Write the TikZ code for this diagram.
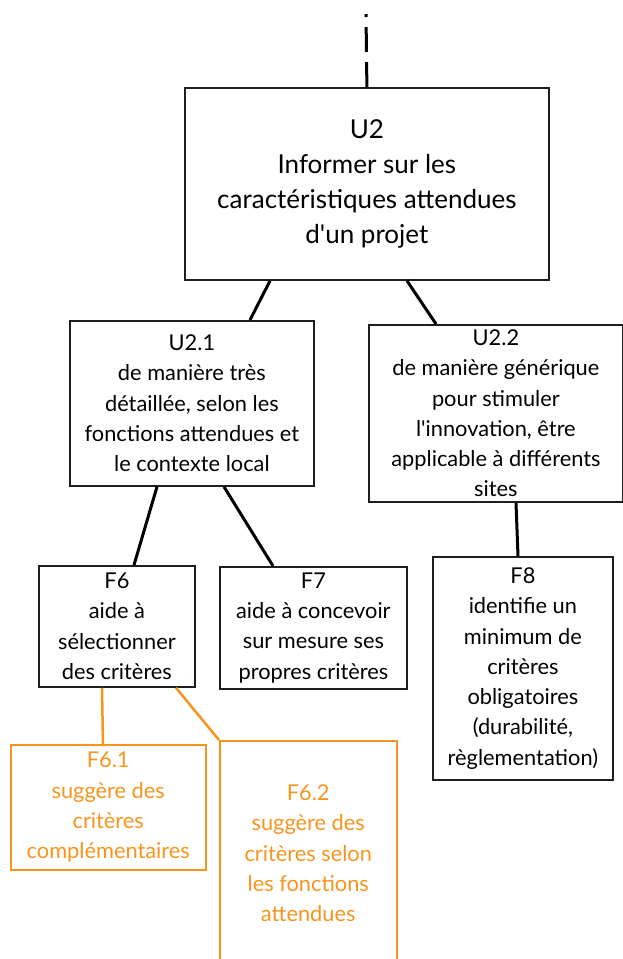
\documentclass[tikz,border=0pt]{standalone}
\usepackage{fontspec}
\setmainfont{Lato}
\usetikzlibrary{calc}
\definecolor{org}{RGB}{247,148,30}
\definecolor{ink}{RGB}{30,30,30}
\tikzset{
  box/.style={draw=ink, line width=1.8pt, anchor=north west, inner sep=0pt,
    align=center, text=black, font=\fontsize{21.8}{30.3}\selectfont},
  bigbox/.style={box, font=\fontsize{26}{35}\selectfont},
  obox/.style={box, draw=org, text=org, line width=1.5pt},
  link/.style={line width=3pt, black},
  olink/.style={line width=2.5pt, org},
}
\begin{document}
\begin{tikzpicture}[x=1pt,y=-1pt]
\useasboundingbox (0,0) rectangle (623,959);
\node[bigbox, minimum width=364pt, minimum height=192pt] (u2) at (184,87)
  {U2\\Informer sur les\\caractéristiques attendues\\d\textquotesingle un projet};
\node[box, minimum width=244pt, minimum height=165pt] (u21) at (69,320)
  {U2.1\\de manière très\\détaillée, selon les\\fonctions attendues et\\le contexte local};
\node[box, minimum width=254pt, minimum height=177pt] (u22) at (368,324)
  {U2.2\\de manière générique\\pour stimuler\\l\textquotesingle innovation, être\\applicable à différents\\sites};
\node[box, minimum width=156pt, minimum height=121pt] (f6) at (38,565)
  {F6\\aide à\\sélectionner\\des critères};
\node[box, minimum width=187pt, minimum height=122pt] (f7) at (219,566)
  {F7\\aide à concevoir\\sur mesure ses\\propres critères};
\node[box, minimum width=180pt, minimum height=223pt] (f8) at (432,556)
  {F8\\identifie un\\minimum de\\critères\\obligatoires\\(durabilité,\\règlementation)};
\node[obox, minimum width=195pt, minimum height=125pt] (f61) at (10,744)
  {F6.1\\suggère des\\critères\\complémentaires};
\node[obox, minimum width=177pt, minimum height=225pt] (f62) at (219,740)
  {F6.2\\suggère des\\critères selon\\les fonctions\\attendues};
\coordinate (topend) at (366,14);
\draw[link, dash pattern=on 25pt off 10pt] (u2.north) -- (topend);
\draw[link] ($(u2.south west)+(86,0)$) -- ($(u21.north west)+(181,0)$);
\draw[link] ($(u2.south west)+(223,0)$) -- ($(u22.north west)+(68,0)$);
\draw[link] ($(u21.south west)+(88,0)$) -- ($(f6.north west)+(96,0)$);
\draw[link] ($(u21.south west)+(155,0)$) -- ($(f7.north west)+(54,0)$);
\draw[link] ($(u22.south west)+(148,0)$) -- ($(f8.north west)+(86,0)$);
\draw[olink] ($(f6.south west)+(64,0)$) -- ($(f61.north west)+(93,0)$);
\draw[olink] ($(f6.south west)+(138,0)$) -- (f62.north west);
\end{tikzpicture}
\end{document}
